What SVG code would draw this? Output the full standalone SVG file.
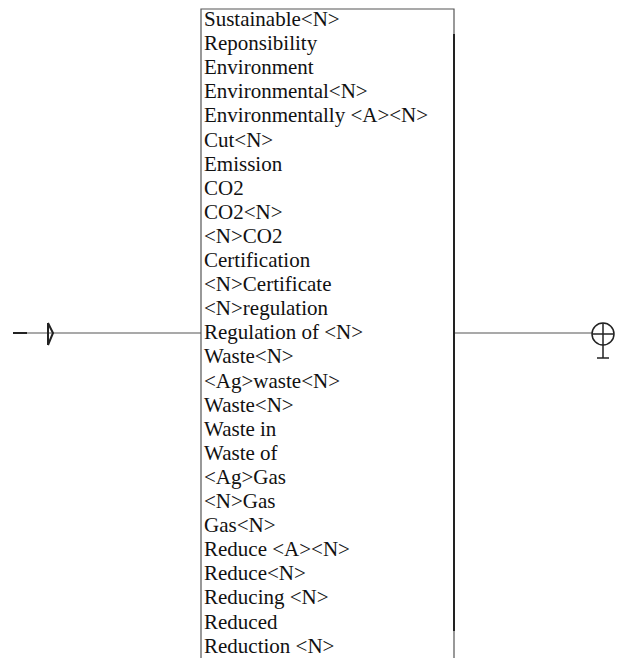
<svg xmlns="http://www.w3.org/2000/svg" width="621" height="658" viewBox="0 0 621 658">
<style>
  .ln { stroke: #555; stroke-width: 1.2; fill: none; }
  .dk { stroke: #222; fill: none; }
</style>
<rect x="0" y="0" width="621" height="658" fill="#fff"/>
<g id="connectors">
  <line class="ln" x1="27" y1="333" x2="201" y2="333"/>
  <line class="ln" x1="454" y1="333" x2="592" y2="333"/>
</g>
<g id="start">
  <line class="dk" x1="13" y1="333" x2="27" y2="333" stroke-width="2"/>
  <path class="dk" stroke-width="2" d="M48,323 L48,345 M48,323 L53,333 L48,345"/>
</g>
<g id="end">
  <circle class="dk" stroke-width="1.5" cx="603" cy="334" r="11"/>
  <line class="dk" stroke-width="1.5" x1="592" y1="334" x2="614" y2="334"/>
  <line class="dk" stroke-width="1.5" x1="603" y1="323" x2="603" y2="358"/>
  <line class="dk" stroke-width="1.5" x1="597" y1="358" x2="609" y2="358"/>
</g>
<g id="list">
  <path class="ln" d="M201,660 L201,9 L454,9 L454,660"/>
  <line class="dk" stroke-width="2" x1="454" y1="34" x2="454" y2="631"/>
  <g font-family="Liberation Serif" font-size="21" fill="#111">
  <text x="204" y="26">Sustainable&lt;N&gt;</text>
  <text x="204" y="50.1">Reponsibility</text>
  <text x="204" y="74.2">Environment</text>
  <text x="204" y="98.3">Environmental&lt;N&gt;</text>
  <text x="204" y="122.4">Environmentally &lt;A&gt;&lt;N&gt;</text>
  <text x="204" y="146.5">Cut&lt;N&gt;</text>
  <text x="204" y="170.6">Emission</text>
  <text x="204" y="194.7">CO2</text>
  <text x="204" y="218.8">CO2&lt;N&gt;</text>
  <text x="204" y="242.9">&lt;N&gt;CO2</text>
  <text x="204" y="267">Certification</text>
  <text x="204" y="291.1">&lt;N&gt;Certificate</text>
  <text x="204" y="315.2">&lt;N&gt;regulation</text>
  <text x="204" y="339.3">Regulation of &lt;N&gt;</text>
  <text x="204" y="363.4">Waste&lt;N&gt;</text>
  <text x="204" y="387.5">&lt;Ag&gt;waste&lt;N&gt;</text>
  <text x="204" y="411.6">Waste&lt;N&gt;</text>
  <text x="204" y="435.7">Waste in</text>
  <text x="204" y="459.8">Waste of</text>
  <text x="204" y="483.9">&lt;Ag&gt;Gas</text>
  <text x="204" y="508">&lt;N&gt;Gas</text>
  <text x="204" y="532.1">Gas&lt;N&gt;</text>
  <text x="204" y="556.2">Reduce &lt;A&gt;&lt;N&gt;</text>
  <text x="204" y="580.3">Reduce&lt;N&gt;</text>
  <text x="204" y="604.4">Reducing &lt;N&gt;</text>
  <text x="204" y="628.5">Reduced</text>
  <text x="204" y="652.6">Reduction &lt;N&gt;</text>
  </g>
</g>
</svg>
